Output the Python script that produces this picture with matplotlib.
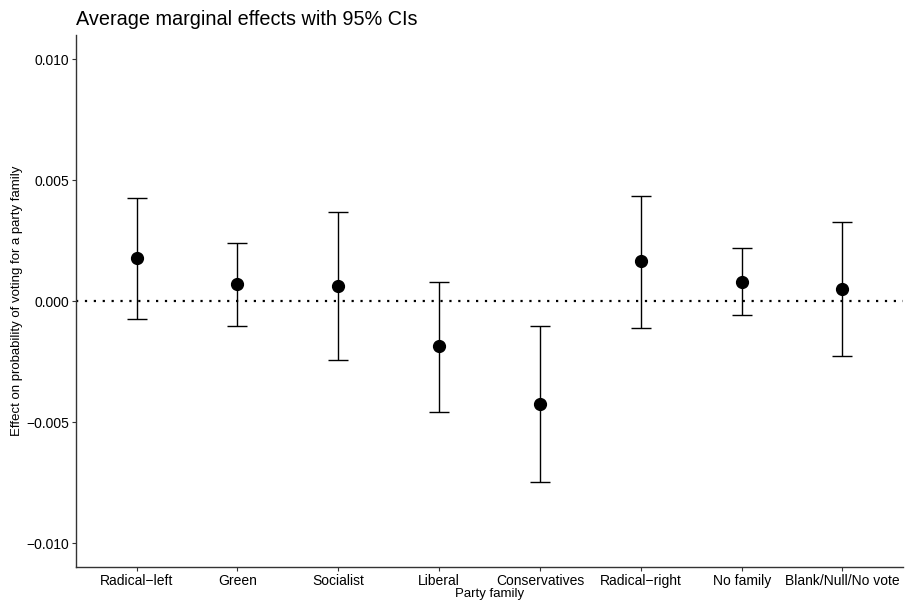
import matplotlib
matplotlib.use("Agg")
from matplotlib import pyplot as plt

plt.rcParams["font.family"] = ["Liberation Sans", "DejaVu Sans"]

families = ["Radical\u2212left", "Green", "Socialist", "Liberal", "Conservatives",
            "Radical\u2212right", "No family", "Blank/Null/No vote"]
effect = [0.00178, 0.00070, 0.00063, -0.00187, -0.00425, 0.00164, 0.00081, 0.00051]
ci_low = [-0.00074, -0.00101, -0.00242, -0.00457, -0.00749, -0.00110, -0.00057, -0.00226]
ci_high = [0.00428, 0.00242, 0.00369, 0.00081, -0.00101, 0.00436, 0.00221, 0.00327]

fig = plt.figure(figsize=(9.06, 6.03), dpi=100)
ax = fig.add_axes([0.0839, 0.0592, 0.9128, 0.8828])

xs = list(range(1, len(families) + 1))
yerr = [[e - lo for e, lo in zip(effect, ci_low)],
        [hi - e for e, hi in zip(effect, ci_high)]]

ax.axhline(0, color="black", linestyle=(0, (1, 3)), linewidth=1.6, zorder=1)
ax.errorbar(xs, effect, yerr=yerr, fmt="o", color="black", ecolor="black",
            elinewidth=1.0, capsize=7, capthick=1.0, markersize=8.5, zorder=3)

ax.set_xlim(0.4, 8.6)
ax.set_ylim(-0.011, 0.011)
ax.set_xticks(xs)
ax.set_xticklabels(families)
ax.set_yticks([-0.010, -0.005, 0.0, 0.005, 0.010])
ax.set_yticklabels(["\u22120.010", "\u22120.005", "0.000", "0.005", "0.010"])

for s in ["top", "right"]:
    ax.spines[s].set_visible(False)
for s in ["left", "bottom"]:
    ax.spines[s].set_color("#333333")
    ax.spines[s].set_linewidth(1.0)
ax.tick_params(axis="both", length=3, width=0.8, color="#333333",
               labelsize=10, labelcolor="black", pad=2)

ax.set_xlabel("Party family", fontsize=9.5, labelpad=0)
ax.set_ylabel("Effect on probability of voting for a party family", fontsize=9.5)
ax.yaxis.set_label_coords(-0.064, 0.5)
ax.set_title("Average marginal effects with 95% CIs", loc="left", fontsize=14.3, pad=7)

fig.savefig("out.png", dpi=100)
